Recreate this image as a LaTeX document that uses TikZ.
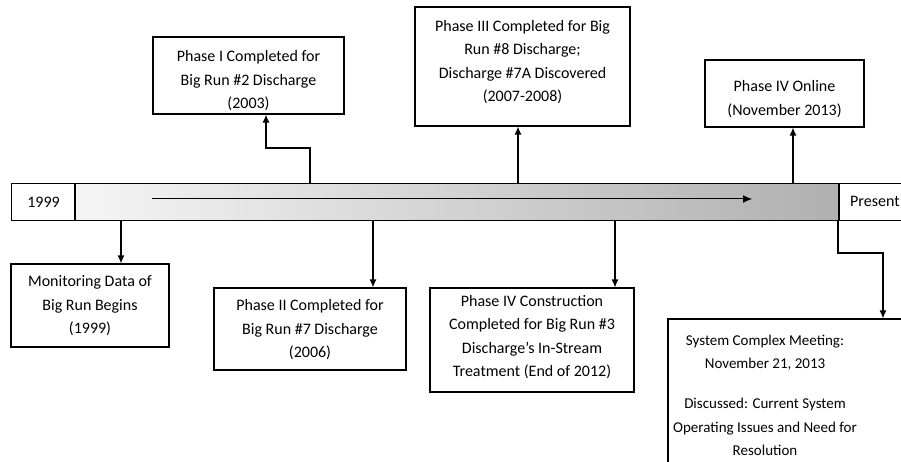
\documentclass[tikz,border=0pt]{standalone}
\usepackage{fontspec}
\setmainfont{Carlito}
\usetikzlibrary{arrows.meta}
\begin{document}
\begin{tikzpicture}[x=1pt,y=-1pt,
  box/.style={draw=black,line width=1.1pt,inner sep=0pt,fill=white},
  lbl/.style={align=center,font=\fontsize{16}{23.5}\selectfont,inner sep=0pt},
  lblsm/.style={lbl,font=\fontsize{15}{23.5}\selectfont},
  arr/.style={draw=black,line width=1.3pt,-{Latex[length=8pt,width=7pt]}},
]
\useasboundingbox (0,0) rectangle (901,462);
\clip (0,0) rectangle (901,462);
% timeline bar
\node[box, minimum width=763pt, minimum height=37pt, left color=gray!8, right color=gray!62, anchor=north west] (bar) at (75,183) {};
\node[box, minimum width=64pt, minimum height=37pt, anchor=north west] (y1999) at (11,183) {};
\node[lbl] (t1999) at (y1999.center) {1999};
\node[box, minimum width=90pt, minimum height=37pt, anchor=north west] (pres) at (838,183) {};
\node[lbl, anchor=west] (tpres) at (850,201) {Present};
\draw[line width=2pt] (bar.north west) -- (bar.south west);
\draw[line width=2pt] (bar.north east) -- (bar.south east);
\coordinate (ia) at (152,199);
\coordinate (ib) at (752,199);
\draw[draw=black,line width=1pt,-{Latex[length=9pt,width=8pt]}] (ia) -- (ib);
% boxes above
\node[box, minimum width=191pt, minimum height=77pt] (p1) at (248.5,75.5) {};
\node[lbl] (p1t) at (248.5,81) {Phase I Completed for\\Big Run \#2 Discharge\\(2003)};
\node[box, minimum width=215pt, minimum height=119pt] (p3) at (522.5,66.5) {};
\node[lbl] (p3t) at (522.5,62) {Phase III Completed for Big\\Run \#8 Discharge;\\Discharge \#7A Discovered\\(2007-2008)};
\node[box, minimum width=159pt, minimum height=67pt] (p4on) at (784.5,93.5) {};
\node[lbl] (p4ont) at (784.5,99) {Phase IV Online\\(November 2013)};
% boxes below
\node[box, minimum width=158pt, minimum height=83pt] (mon) at (90,305.5) {};
\node[lbl] (mont) at (90,306) {Monitoring Data of\\Big Run Begins\\(1999)};
\node[box, minimum width=192pt, minimum height=82pt] (p2) at (310,329) {};
\node[lbl] (p2t) at (310,330) {Phase II Completed for\\Big Run \#7 Discharge\\(2006)};
\node[box, minimum width=204pt, minimum height=104pt] (p4c) at (532,340) {};
\node[lbl] (p4ct) at (532,337) {Phase IV Construction\\Completed for Big Run \#3\\Discharge’s In-Stream\\Treatment (End of 2012)};
\node[box, minimum width=292pt, minimum height=201pt] (sys) at (814,419.5) {};
\node[lblsm] (syst1) at (765,352.5) {System Complex Meeting:\\November 21, 2013};
\node[lblsm] (syst2) at (765,427) {Discussed: Current System\\Operating Issues and Need for\\Resolution};
% connectors
\coordinate (s1) at (310,183);
\coordinate (k1) at (266,148);
\draw[arr] (s1) |- (k1) -- (k1 |- p1.south);
\coordinate (s3) at (518,183);
\draw[arr] (s3) -- (s3 |- p3.south);
\coordinate (s4) at (793,183);
\draw[arr] (s4) -- (s4 |- p4on.south);
\coordinate (sm) at (121,220);
\draw[arr] (sm) -- (sm |- mon.north);
\coordinate (s2) at (373,220);
\draw[arr] (s2) -- (s2 |- p2.north);
\coordinate (sc) at (615,220);
\draw[arr] (sc) -- (sc |- p4c.north);
\coordinate (ss) at (838,220);
\coordinate (ks) at (883,253);
\draw[arr] (ss) |- (ks) -- (ks |- sys.north);
\end{tikzpicture}
\end{document}
